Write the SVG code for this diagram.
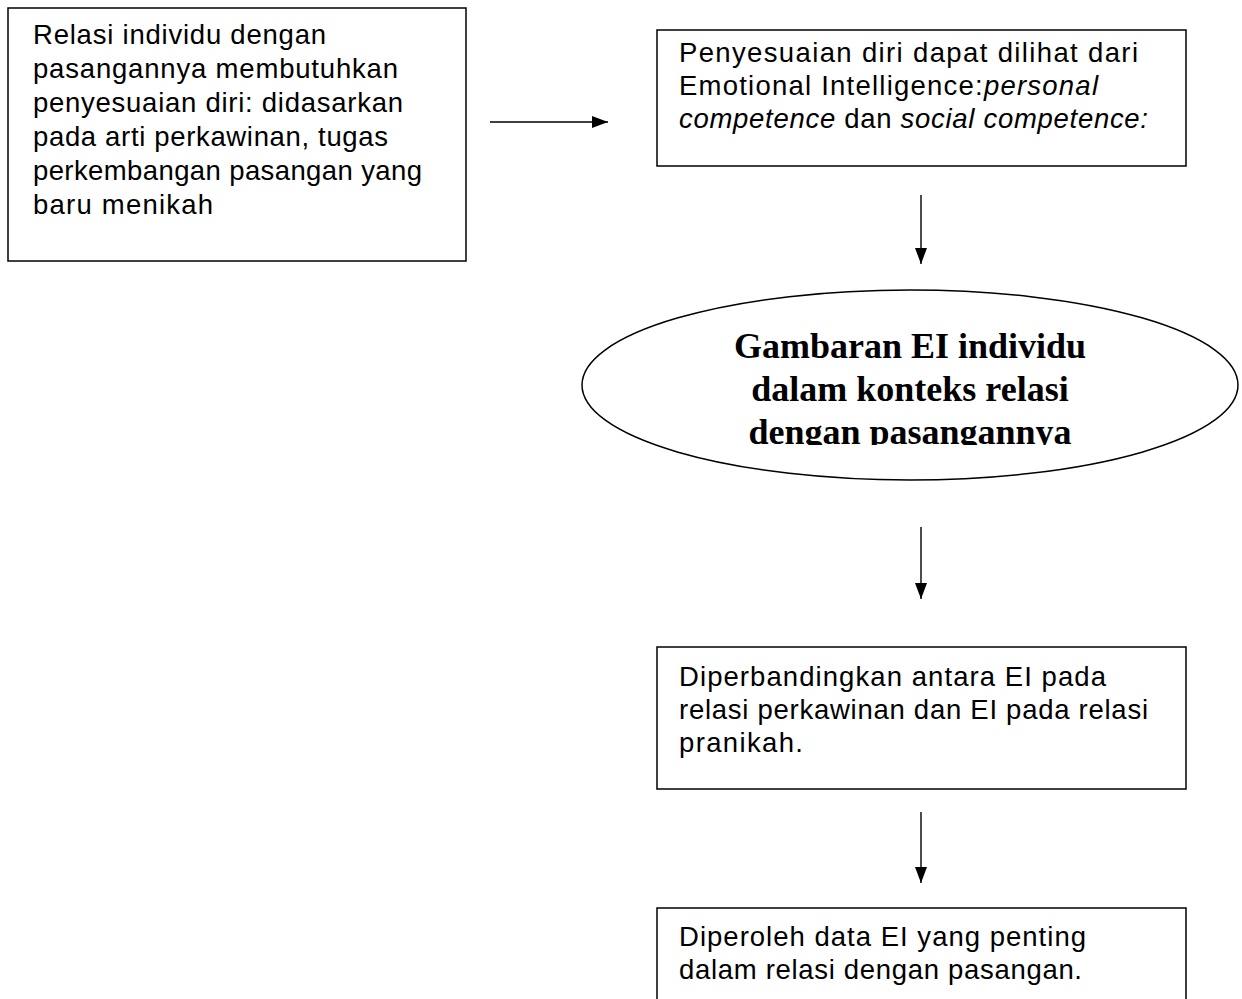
<svg xmlns="http://www.w3.org/2000/svg" width="1242" height="999" viewBox="0 0 1242 999">
<style>
.box{fill:#fff;stroke:#000;stroke-width:1.5}
.t{font-family:"Liberation Sans",Arial,sans-serif;font-size:27.5px;fill:#000}
.i{font-style:italic}
.e{font-family:"Liberation Serif","Times New Roman",serif;font-size:36px;font-weight:bold;fill:#000}
.c{stroke:#000;stroke-width:1.4;fill:none}
</style>
<defs>
<marker id="ah2" markerWidth="16" markerHeight="12" refX="16" refY="6" orient="auto" markerUnits="userSpaceOnUse" viewBox="0 0 16 12">
<path d="M0,0 L16,6 L0,12 Z" fill="#000"/>
</marker>
<clipPath id="ec"><rect x="560" y="280" width="700" height="165"/></clipPath>
</defs>
<rect width="1242" height="999" fill="#fff"/>
<g id="n1">
<rect class="box" x="8" y="8" width="458" height="253"/>
<text class="t" x="33" y="44" textLength="293">Relasi individu dengan</text>
<text class="t" x="33" y="78" textLength="365">pasangannya membutuhkan</text>
<text class="t" x="33" y="112" textLength="370">penyesuaian diri: didasarkan</text>
<text class="t" x="33" y="146" textLength="355">pada arti perkawinan, tugas</text>
<text class="t" x="33" y="180" textLength="389">perkembangan pasangan yang</text>
<text class="t" x="33" y="214" textLength="180">baru menikah</text>
</g>
<g id="n2">
<rect class="box" x="657" y="30" width="529" height="136"/>
<text class="t" x="679" y="62" textLength="459">Penyesuaian diri dapat dilihat dari</text>
<text class="t" x="679" y="95" textLength="419">Emotional Intelligence:<tspan class="i">personal</tspan></text>
<text class="t" x="679" y="128" textLength="469"><tspan class="i">competence</tspan> dan <tspan class="i">social competence:</tspan></text>
</g>
<g id="n3">
<ellipse cx="910" cy="385" rx="328" ry="95" fill="#fff" stroke="#000" stroke-width="1.5"/>
<g clip-path="url(#ec)">
<text class="e" x="910" y="358" text-anchor="middle">Gambaran EI individu</text>
<text class="e" x="910" y="401" text-anchor="middle">dalam konteks relasi</text>
<text class="e" x="910" y="444" text-anchor="middle">dengan pasangannya</text>
</g>
</g>
<g id="n4">
<rect class="box" x="657" y="647" width="529" height="142"/>
<text class="t" x="679" y="686" textLength="427">Diperbandingkan antara EI pada</text>
<text class="t" x="679" y="719" textLength="469">relasi perkawinan dan EI pada relasi</text>
<text class="t" x="679" y="752" textLength="124">pranikah.</text>
</g>
<g id="n5">
<path class="box" d="M657,1005 L657,908 L1186,908 L1186,1005"/>
<text class="t" x="679" y="946" textLength="407">Diperoleh data EI yang penting</text>
<text class="t" x="679" y="979" textLength="403">dalam relasi dengan pasangan.</text>
</g>
<g id="connectors">
<line class="c" x1="490" y1="122" x2="608" y2="122" marker-end="url(#ah2)"/>
<line class="c" x1="921" y1="195" x2="921" y2="264" marker-end="url(#ah2)"/>
<line class="c" x1="921" y1="527" x2="921" y2="599" marker-end="url(#ah2)"/>
<line class="c" x1="921" y1="812" x2="921" y2="883" marker-end="url(#ah2)"/>
</g>
</svg>
